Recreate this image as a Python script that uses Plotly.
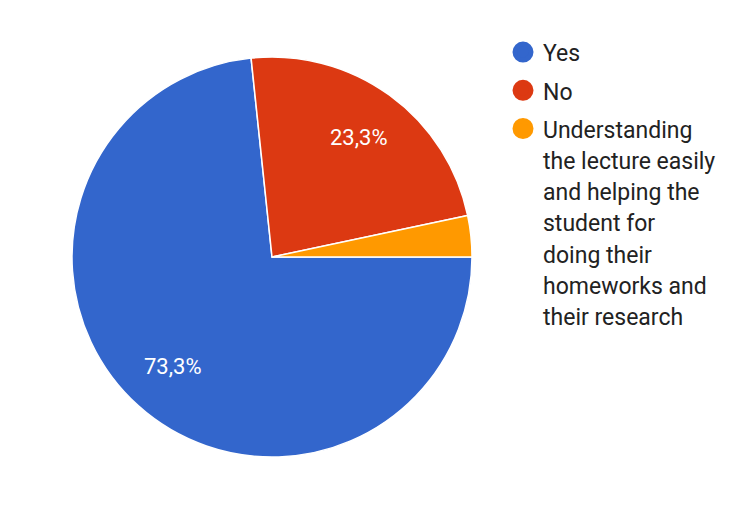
import math
import plotly.graph_objects as go

labels = ["Yes", "No", "Understanding the lecture easily and helping the student for doing their homeworks and their research"]
legend_lines = [["Yes"], ["No"], ["Understanding", "the lecture easily", "and helping the", "student for", "doing their", "homeworks and", "their research"]]
values = [22, 7, 1]
colors = ["#3366cc", "#dc3912", "#ff9900"]
show_text = [True, True, False]

W, H = 734, 523
cx, cy, r = 264, 249, 200   # pie centre/radius in figure pixels (page adds 8px body margin)
start_deg = 90  # first slice starts at 3 o'clock, going clockwise

fig = go.Figure()
fig.add_trace(go.Pie(
    labels=labels, values=values, sort=False, direction="clockwise", rotation=start_deg,
    marker=dict(colors=colors, line=dict(color="white", width=1.5)),
    textinfo="none",
    showlegend=False, hoverinfo="label+percent",
    domain=dict(x=[(cx - r) / W, (cx + r) / W], y=[(H - cy - r) / H, (H - cy + r) / H]),
))

# percentage labels placed at ~0.74 r along each slice's middle angle
total = sum(values)
acc = 0
for v, s in zip(values, show_text):
    mid = start_deg + 360 * (acc + v / 2) / total
    acc += v
    if not s:
        continue
    a = math.radians(mid)
    px = cx + 0.74 * r * math.sin(a)
    py = cy - 0.74 * r * math.cos(a)
    fig.add_annotation(x=px / W, y=1 - py / H, xref="paper", yref="paper",
                       xanchor="center", yanchor="middle",
                       text=f"{100 * v / total:.1f}%".replace(".", ","), showarrow=False,
                       font=dict(family="Roboto", size=22, color="white"))

for i, lab in enumerate(labels):
    txt = "<br>".join(f"<span style='font-size:23px'>{ln}</span>" for ln in legend_lines[i])
    fig.add_trace(go.Scatter(
        x=[None], y=[None], mode="markers", name=txt, legendgroup=str(i),
        marker=dict(symbol="circle", size=16, color=colors[i], line=dict(color=colors[i], width=5)),
        hoverinfo="skip",
    ))

fig.update_layout(
    width=W, height=H, margin=dict(l=0, r=0, t=0, b=0, autoexpand=False),
    paper_bgcolor="white", plot_bgcolor="white",
    xaxis=dict(visible=False), yaxis=dict(visible=False),
    legend=dict(x=495 / W, y=1 - 22 / H, xanchor="left", yanchor="top",
                font=dict(family="Roboto", size=24, color="#222222"),
                valign="top", tracegroupgap=4, itemsizing="trace"),
)
fig.write_html("out.html")
